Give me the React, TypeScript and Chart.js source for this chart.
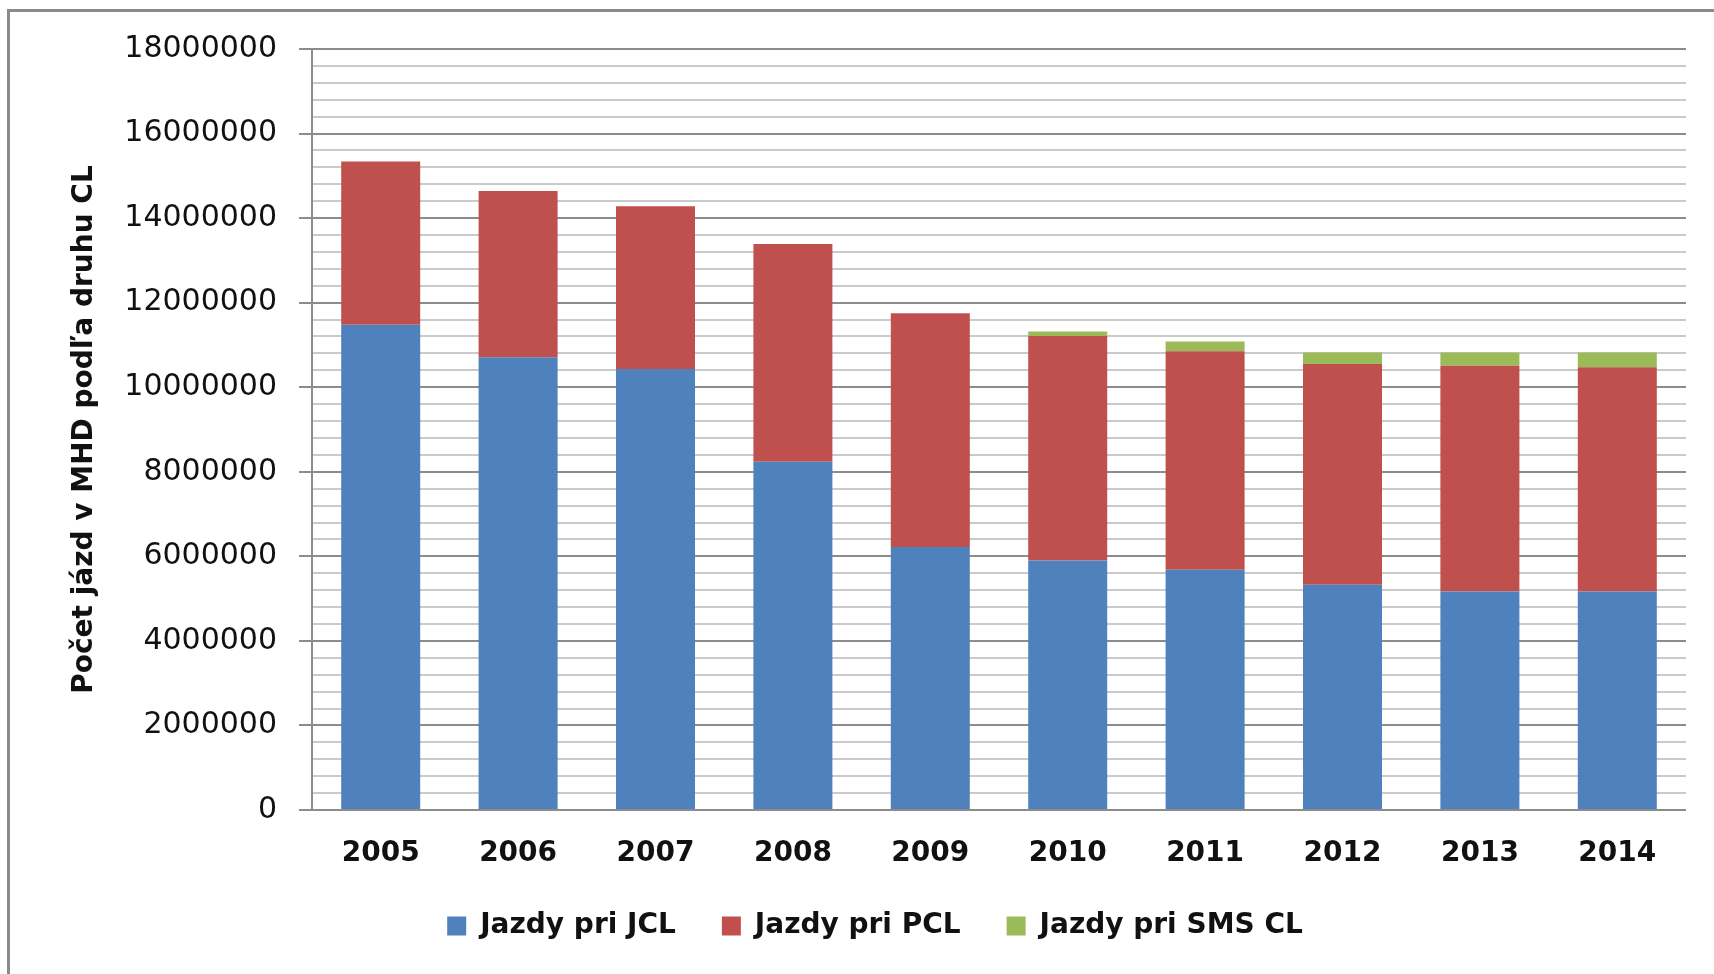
import React, { useEffect, useRef } from "react";
import { Chart, registerables } from "chart.js";

Chart.register(...registerables);

const years = ["2005", "2006", "2007", "2008", "2009", "2010", "2011", "2012", "2013", "2014"];
const jazdyJCL = [11480000, 10710000, 10430000, 8240000, 6220000, 5900000, 5680000, 5330000, 5170000, 5170000];
const jazdyPCL = [3860000, 3930000, 3850000, 5150000, 5530000, 5310000, 5170000, 5220000, 5340000, 5300000];
const jazdySMS = [0, 0, 0, 0, 0, 110000, 230000, 270000, 310000, 350000];
const seriesNames = ["Jazdy pri JCL", "Jazdy pri PCL", "Jazdy pri SMS CL"];
const yMax = 18000000;
const yStep = 400000;
const yLabelStep = 2000000;
const yTitle = "Počet jázd v MHD podľa druhu CL";

const isMajor = (v: number) => Math.round(v) % yLabelStep === 0;

export default function App() {
  const ref = useRef<HTMLCanvasElement | null>(null);

  useEffect(() => {
    if (!ref.current) return;
    const chart = new Chart(ref.current, {
      type: "bar",
      data: {
        labels: years,
        datasets: [
          { label: seriesNames[0], data: jazdyJCL, backgroundColor: "#4F81BD" },
          { label: seriesNames[1], data: jazdyPCL, backgroundColor: "#C0504D" },
          { label: seriesNames[2], data: jazdySMS, backgroundColor: "#9BBB59" },
        ],
      },
      options: {
        responsive: false,
        animation: false,
        devicePixelRatio: 1,
        datasets: { bar: { categoryPercentage: 1, barPercentage: 0.575 } },
        layout: { padding: { left: 64, right: 28, top: 49, bottom: 24 } },
        plugins: {
          tooltip: { enabled: false },
          legend: {
            position: "bottom",
            labels: {
              boxWidth: 19,
              boxHeight: 19,
              padding: 46,
              color: "#111",
              font: { family: "DejaVu Sans", size: 28, weight: "bold" },
            },
          },
        },
        scales: {
          x: {
            stacked: true,
            grid: { display: false, drawTicks: false },
            border: { display: false },
            ticks: {
              padding: 27,
              color: "#111",
              font: { family: "DejaVu Sans", size: 28, weight: "bold" },
            },
            afterFit: (s: any) => {
              s.height = 56;
            },
          },
          y: {
            stacked: true,
            min: 0,
            max: yMax,
            border: { display: true, color: "#8c8c8c", width: 2 },
            grid: {
              color: (c: any) => (c.tick && isMajor(c.tick.value) ? "#8c8c8c" : "#cacaca"),
              tickColor: (c: any) => (c.tick && isMajor(c.tick.value) ? "#8c8c8c" : "rgba(0,0,0,0)"),
              lineWidth: 2,
              tickLength: 13,
            },
            ticks: {
              stepSize: yStep,
              autoSkip: false,
              padding: 22,
              color: "#111",
              font: { family: "DejaVu Sans", size: 30 },
              callback: (v: any) => (isMajor(Number(v)) ? String(Math.round(Number(v))) : ""),
            },
            title: {
              display: true,
              text: yTitle,
              color: "#111",
              font: { family: "DejaVu Sans", size: 28, weight: "bold" },
            },
            afterFit: (s: any) => {
              s.width = 248;
            },
          },
        },
      },
    });
    return () => chart.destroy();
  }, []);

  return (
    <div style={{ position: "fixed", left: 0, top: 0, width: 1714, height: 974, overflow: "hidden", background: "#fff" }}>
      <div
        style={{
          position: "absolute",
          left: 7,
          top: 9,
          width: 2000,
          height: 2000,
          borderLeft: "3px solid #8a8a8a",
          borderTop: "3px solid #8a8a8a",
        }}
      />
      <canvas ref={ref} width={1714} height={974} style={{ position: "absolute", left: 0, top: 0, width: 1714, height: 974 }} />
    </div>
  );
}
